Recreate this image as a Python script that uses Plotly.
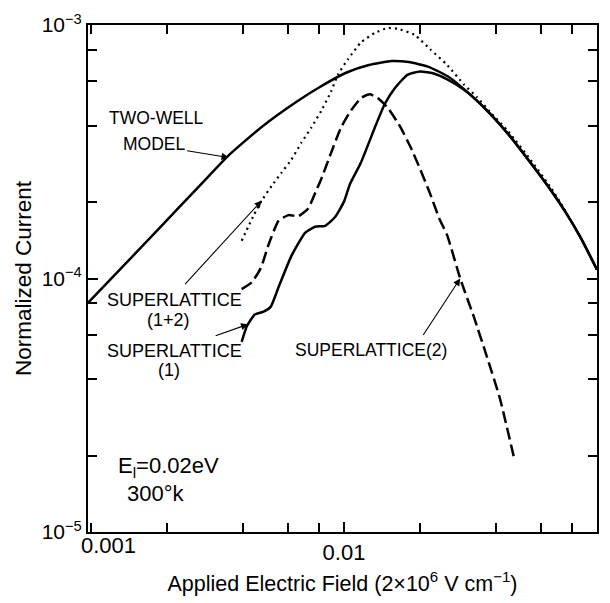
import math
import plotly.graph_objects as go

# Applied field (units of 2e6 V/cm) and normalized current for each model curve
two_well_x = [0.000973, 0.0013, 0.001868, 0.002685, 0.003523, 0.004753, 0.006471, 0.007966,
              0.01019, 0.01254, 0.01545, 0.01803, 0.0216, 0.02588, 0.0302, 0.0362, 0.0446,
              0.0549, 0.0659, 0.0748, 0.0865, 0.1]
two_well_y = [8.02e-5, 1.083e-4, 1.585e-4, 2.32e-4, 3.08e-4, 3.98e-4, 4.97e-4, 5.67e-4,
              6.48e-4, 6.95e-4, 7.21e-4, 7.14e-4, 6.84e-4, 6.25e-4, 5.52e-4, 4.67e-4, 3.71e-4,
              2.84e-4, 2.22e-4, 1.84e-4, 1.44e-4, 1.083e-4]

sl1_x = [0.00394, 0.00413, 0.00444, 0.00481, 0.00513, 0.00551, 0.00619, 0.00703, 0.00769,
         0.00842, 0.00922, 0.0100, 0.01056, 0.01167, 0.01324, 0.01449, 0.01585, 0.0178,
         0.0200, 0.0228, 0.0256, 0.0302, 0.0362, 0.0446, 0.0549, 0.0659, 0.0748, 0.0865, 0.1]
sl1_y = [5.62e-5, 6.48e-5, 7.21e-5, 7.4e-5, 7.73e-5, 9.23e-5, 1.225e-4, 1.517e-4, 1.6e-4,
         1.614e-4, 1.747e-4, 2.01e-4, 2.36e-4, 2.87e-4, 3.94e-4, 4.88e-4, 5.62e-4, 6.36e-4,
         6.56e-4, 6.42e-4, 6.1e-4, 5.5e-4, 4.67e-4, 3.71e-4, 2.84e-4, 2.22e-4, 1.84e-4,
         1.44e-4, 1.083e-4]

sl2_x = [0.00394, 0.00432, 0.00469, 0.00504, 0.00551, 0.00603, 0.0066, 0.00722, 0.00776,
         0.00813, 0.00889, 0.00973, 0.01064, 0.01167, 0.01265, 0.01359, 0.0149, 0.01675,
         0.01832, 0.0200, 0.0219, 0.02377, 0.0256, 0.0288, 0.03266, 0.0367, 0.0413, 0.0469]
sl2_y = [9.08e-5, 9.66e-5, 1.1e-4, 1.365e-4, 1.687e-4, 1.778e-4, 1.762e-4, 1.89e-4, 2.22e-4,
         2.47e-4, 3.13e-4, 3.94e-4, 4.59e-4, 5.15e-4, 5.33e-4, 5.15e-4, 4.71e-4, 3.94e-4,
         3.3e-4, 2.7e-4, 2.16e-4, 1.73e-4, 1.476e-4, 1.0e-4, 7.02e-5, 4.92e-5, 3.37e-5, 1.98e-5]

sl12_x = [0.00394, 0.0044, 0.00473, 0.00518, 0.00567, 0.00619, 0.00678, 0.00743, 0.00813,
          0.00889, 0.00946, 0.01037, 0.01167, 0.01324, 0.0149, 0.0163, 0.019, 0.0219, 0.0256,
          0.0298, 0.0335, 0.0377, 0.0446, 0.0549, 0.0659, 0.0748]
sl12_y = [1.41e-4, 1.778e-4, 2.03e-4, 2.32e-4, 2.62e-4, 2.94e-4, 3.43e-4, 3.94e-4, 4.59e-4,
          5.47e-4, 6.37e-4, 7.33e-4, 8.53e-4, 9.31e-4, 9.73e-4, 9.66e-4, 9.15e-4, 8.02e-4,
          6.95e-4, 5.82e-4, 5.2e-4, 4.55e-4, 3.8e-4, 2.92e-4, 2.27e-4, 1.86e-4]

x_major = [0.01, 0.1]
x_major_text = ["0.01", "0.1"]
x_first_label = "0.001"
x_minor = [0.001, 0.002, 0.004, 0.006, 0.008, 0.02, 0.04, 0.06, 0.08]
y_major = [1e-5, 1e-4, 1e-3]
y_major_text = ["10<sup>\u22125</sup>", "10<sup>\u22124</sup>", "10<sup>\u22123</sup>"]
y_minor = [2e-5, 4e-5, 6e-5, 8e-5, 2e-4, 4e-4, 6e-4, 8e-4]

FONT = "Liberation Sans, Arial, sans-serif"

fig = go.Figure()
smooth = dict(shape="spline", smoothing=0.5)
fig.add_trace(go.Scatter(x=two_well_x, y=two_well_y, mode="lines", name="Two-well model",
                         line=dict(color="black", width=2.5, **smooth)))
fig.add_trace(go.Scatter(x=sl1_x, y=sl1_y, mode="lines", name="Superlattice (1)",
                         line=dict(color="black", width=2.5, **smooth)))
fig.add_trace(go.Scatter(x=sl2_x, y=sl2_y, mode="lines", name="Superlattice (2)",
                         line=dict(color="black", width=2.5, dash="12px,5px", **smooth)))
fig.add_trace(go.Scatter(x=sl12_x, y=sl12_y, mode="lines", name="Superlattice (1+2)",
                         line=dict(color="black", width=2.2, dash="2px,4px", **smooth)))

# plot frame in pixels: left 88, right 599, top 17, bottom 537
L, R, T, B = 88, 599, 17, 537


def px(xp, yp):
    return (xp - L) / (R - L), (B - yp) / (B - T)


def label(text, xp, yp, size=18, align="center"):
    xx, yy = px(xp, yp)
    fig.add_annotation(x=xx, y=yy, xref="paper", yref="paper", text=text, showarrow=False,
                       xanchor=align, yanchor="middle",
                       font=dict(family=FONT, size=size, color="black"))


def arrow(tip_x, tip_y, ax, ay):
    fig.add_annotation(x=math.log10(tip_x), y=math.log10(tip_y), xref="x", yref="y",
                       text="", showarrow=True, arrowhead=2, arrowsize=1.3, arrowwidth=1.1,
                       arrowcolor="black", ax=ax, ay=ay, standoff=0)


label("TWO-WELL", 157, 112, size=17.5)
label("MODEL", 155, 139, size=17.5)
arrow(0.0035, 3.0e-4, -43, -7)

label("SUPERLATTICE", 175, 299)
label("(1+2)", 169, 320)
arrow(0.00473, 2.03e-4, -78, 85)

label("SUPERLATTICE", 175, 351)
label("(1)", 169, 371)
arrow(0.00418, 6.6e-5, -34, 12)

label("SUPERLATTICE(2)", 372, 350, size=17.5)
arrow(0.0288, 1.0e-4, -38, 58)

label("E<sub>l</sub>=0.02eV", 116, 470, size=22, align="left")
label("300\u00b0k", 125, 497, size=22, align="left")

# first decade label sits to the right of its tick, clear of the y-axis labels
label(x_first_label, 109, 551, size=22)

axis_common = dict(type="log", showgrid=False, zeroline=False, showline=True,
                   linecolor="black", linewidth=2, mirror="ticks", ticks="inside",
                   ticklen=10, tickwidth=1.5, tickcolor="black", tickmode="array")
minor_common = dict(ticks="inside", ticklen=9, tickwidth=1.5, tickcolor="black",
                    tickmode="array", showgrid=False)

fig.update_layout(
    width=610, height=603,
    margin=dict(l=L, r=610 - R, t=T, b=603 - B),
    paper_bgcolor="white", plot_bgcolor="white",
    showlegend=False,
    xaxis=dict(range=[math.log10(0.000973), -1], tickvals=x_major, ticktext=x_major_text,
               tickfont=dict(family=FONT, size=22, color="black"),
               minor=dict(tickvals=x_minor, **minor_common),
               title=dict(text="Applied Electric Field (2\u00d710<sup>6</sup> V cm<sup>\u22121</sup>)",
                          font=dict(family=FONT, size=21.5, color="black"), standoff=12),
               **axis_common),
    yaxis=dict(range=[-5, -3], tickvals=y_major, ticktext=y_major_text,
               tickfont=dict(family=FONT, size=21, color="black"),
               minor=dict(tickvals=y_minor, **minor_common),
               title=dict(text="Normalized Current",
                          font=dict(family=FONT, size=22.5, color="black"), standoff=4),
               **axis_common),
)

fig.write_html("out.html")
